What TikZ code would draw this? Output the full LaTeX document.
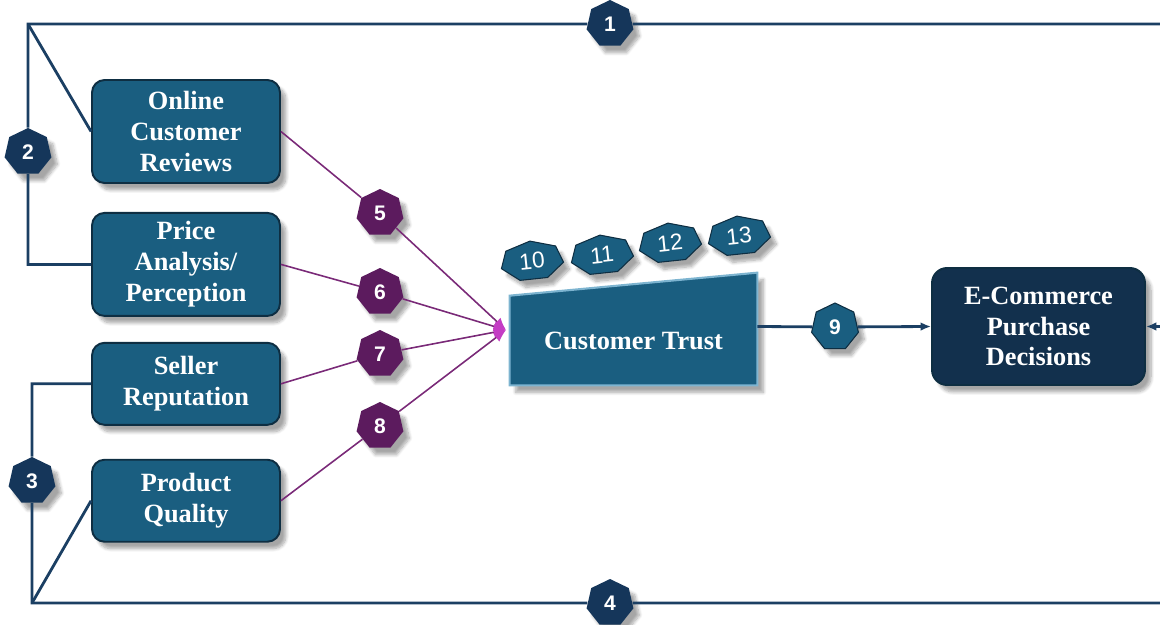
\documentclass[tikz,border=0pt]{standalone}
\usepackage{fontspec}
\setmainfont{Liberation Serif}
\newfontfamily\numfont{Liberation Sans}
\usetikzlibrary{shapes,arrows.meta,positioning,shadows.blur}

\definecolor{boxteal}{HTML}{1A5E80}
\definecolor{boxedge}{HTML}{0E2E42}
\definecolor{navy}{HTML}{1B3F63}
\definecolor{navybadge}{HTML}{15365A}
\definecolor{deepnavy}{HTML}{12304D}
\definecolor{plum}{HTML}{5C1B5E}
\definecolor{plumline}{HTML}{7A2A78}
\definecolor{tipmag}{HTML}{C43CC4}
\definecolor{bevel}{HTML}{7DB4D0}

\begin{document}
\begin{tikzpicture}[x=0.02cm, y=-0.02cm]
    \tikzstyle{softshadow} = [blur shadow={shadow xshift=0.12cm, shadow yshift=-0.14cm, shadow blur steps=8, shadow opacity=35}]
    \tikzstyle{box} = [rectangle, draw=boxedge, line width=1.1pt, fill=boxteal, text=white, text width=3.4cm, text centered, inner xsep=0.18cm, inner ysep=0.1cm, rounded corners=0.25cm, font=\fontsize{15}{17.5}\selectfont\bfseries, softshadow]
    \tikzstyle{badge} = [regular polygon, regular polygon sides=7, minimum size=0.96cm, inner sep=0pt, fill=navybadge, text=white, font=\numfont\bfseries\fontsize{12}{12}\selectfont, softshadow]
    \tikzstyle{pbadge} = [badge, fill=plum]
    \tikzstyle{tbadge} = [badge, fill=boxteal, draw=boxedge, line width=0.6pt]
    \tikzstyle{line} = [draw=navy, line width=1.6pt, line join=miter]
    \tikzstyle{mline} = [draw=plumline, line width=0.9pt]
    \tikzstyle{marrow} = [mline, -{Latex[length=7pt, width=6pt, color=tipmag]}]
    \tikzstyle{narrow} = [line, -{Latex[length=6pt, width=5pt]}]

    \useasboundingbox (0,0) rectangle (1160,625);

    % factors
    \node[box, minimum height=2.06cm] (reviews) at (186,131.5) {Online\\Customer\\Reviews};
    \node[box, minimum height=2.06cm, below=0.56cm of reviews] (price) {Price\\Analysis/\\Perception};
    \node[box, minimum height=1.64cm, below=0.5cm of price] (seller) {Seller\\Reputation};
    \node[box, minimum height=1.64cm, below=0.66cm of seller] (quality) {Product\\Quality};

    % trust block
    \node[minimum width=4.94cm, minimum height=1.78cm] (trust) at (633.5,340.5) {};
    \filldraw[fill=boxteal, draw=bevel, line width=1.2pt, softshadow] (trust.south west) -- (trust.north west) -- ([yshift=0.46cm]trust.north east) -- (trust.south east) -- cycle;
    \node[text=white, font=\fontsize{15}{17.5}\selectfont\bfseries] (trustlabel) at (trust.center) {Customer Trust};

    \node[box, fill=deepnavy, text width=3.9cm, minimum height=2.34cm, rounded corners=0.3cm] (decision) at (1038.5,326.5) {E-Commerce\\Purchase\\Decisions};

    \coordinate (topleft) at (28,24);
    \coordinate (topright) at (1160,24);
    \coordinate (botleft) at (32,603);
    \coordinate (botright) at (1160,603);
    \coordinate (trustin) at (506,330);

    % badges
    \node[badge] (b1) at (610,24) {1};
    \node[badge] (b2) at (28,152) {2};
    \node[badge] (b3) at (32,481) {3};
    \node[badge] (b4) at (610,603) {4};
    \node[pbadge] (b5) at (380,213) {5};
    \node[pbadge] (b6) at (380,292) {6};
    \node[pbadge] (b7) at (380,354) {7};
    \node[pbadge] (b8) at (380,426) {8};
    \node[tbadge] (b9) at (835,327) {9};
    \foreach \n/\x/\y in {10/532/261, 11/602/255, 12/670/243, 13/739/236} {
        \filldraw[fill=boxteal, draw=boxedge, line width=0.6pt, softshadow, shift={(\x,\y)}, rotate=6] (90:0.64cm and 0.4cm) \foreach \k in {1,...,6} { -- (90+\k*51.43:0.64cm and 0.4cm)} -- cycle;
        \node[text=white, font=\numfont\fontsize{13}{13}\selectfont, rotate=6] (b\n) at (\x,\y) {\n};
    }

    % outer frame
    \path[line] (b2) -- (topleft) -- (b1);
    \path[line] (b1) -- (topright);
    \path[line] (topleft) -- (reviews.west);
    \path[line] (b2) -- (topleft |- price.west) -- (price.west);
    \path[line] (b3) -- (botleft) -- (b4);
    \path[line] (b4) -- (botright);
    \path[line] (botleft) -- (quality.west);
    \path[line] (b3) -- (botleft |- seller.west) -- (seller.west);

    % into trust
    \path[mline] (reviews.east) -- (b5);
    \path[marrow] (b5) -- (trustin);
    \path[mline] (price.east) -- (b6);
    \path[marrow] (b6) -- (trustin);
    \path[mline] (seller.east) -- (b7);
    \path[marrow] (b7) -- (trustin);
    \path[mline] (quality.east) -- (b8);
    \path[marrow] (b8) -- (trustin);

    % to decisions
    \path[line] (trust.east |- decision.west) -- (b9);
    \path[narrow] (b9) -- (decision.west);
    \path[narrow] (topright |- decision.east) -- (decision.east);
\end{tikzpicture}
\end{document}
